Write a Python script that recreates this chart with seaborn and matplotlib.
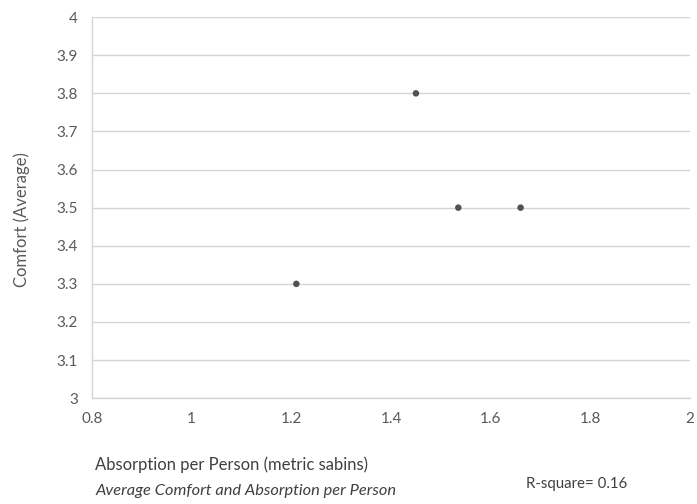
import matplotlib
matplotlib.use("Agg")
import matplotlib.pyplot as plt
import seaborn as sns
import pandas as pd

# Absorption per person (metric sabins) and average comfort ratings
absorption = [1.21, 1.45, 1.535, 1.66]
comfort = [3.3, 3.8, 3.5, 3.5]
x_ticks = [0.8, 1.0, 1.2, 1.4, 1.6, 1.8, 2.0]
x_tick_labels = ["0.8", "1", "1.2", "1.4", "1.6", "1.8", "2"]
y_ticks = [3.0, 3.1, 3.2, 3.3, 3.4, 3.5, 3.6, 3.7, 3.8, 3.9, 4.0]
y_tick_labels = ["3", "3.1", "3.2", "3.3", "3.4", "3.5", "3.6", "3.7", "3.8", "3.9", "4"]
r_square = 0.16

df = pd.DataFrame({"absorption": absorption, "comfort": comfort})

sns.set_theme(style="white")
plt.rcParams["font.family"] = ["Lato", "DejaVu Sans"]

text_color = "#595959"
grid_color = "#d4d4d4"

fig = plt.figure(figsize=(6.97, 5.04), dpi=100)
ax = fig.add_axes([0.132, 0.21, 0.858, 0.756])

sns.scatterplot(data=df, x="absorption", y="comfort", ax=ax,
                color="#505058", s=22, edgecolor="none", zorder=3)

ax.set_xlim(0.8, 2.0)
ax.set_ylim(3.0, 4.0)
ax.set_xticks(x_ticks)
ax.set_xticklabels(x_tick_labels)
ax.set_yticks(y_ticks)
ax.set_yticklabels(y_tick_labels)

ax.yaxis.grid(True, color=grid_color, linewidth=1.0)
ax.xaxis.grid(False)
ax.set_axisbelow(True)

for side in ["top", "right"]:
    ax.spines[side].set_visible(False)
for side in ["left", "bottom"]:
    ax.spines[side].set_color(grid_color)
    ax.spines[side].set_linewidth(1.0)

ax.tick_params(axis="both", which="major", direction="out", length=4,
               width=1.0, color=grid_color, labelcolor=text_color,
               labelsize=11, pad=6)

ax.set_xlabel("")
ax.set_ylabel("Comfort (Average)", color=text_color, fontsize=12)
ax.yaxis.set_label_coords(-0.103, 0.47)

fig.text(0.137, 0.077, "Absorption per Person (metric sabins)",
         color="#404040", fontsize=12, ha="left", va="center")
fig.text(0.137, 0.026, "Average Comfort and Absorption per Person",
         color="#404040", fontsize=11.8, ha="left", va="center", style="italic")
fig.text(0.754, 0.040, f"R-square= {r_square:.2f}",
         color="#404040", fontsize=10.8, ha="left", va="center")

fig.savefig("out.png", dpi=100, facecolor="white")
